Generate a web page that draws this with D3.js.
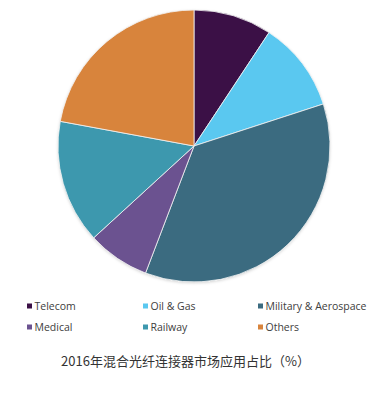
<!DOCTYPE html>
<html>
<head>
<meta charset="utf-8">
<script src="https://cdn.jsdelivr.net/npm/d3@7"></script>
<style>
  body { margin: 0; background: #fff; }
</style>
</head>
<body>
<div id="container"></div>
<script>
// Data (percent share, clockwise from 12 o'clock)
const categories = ["Telecom", "Oil & Gas", "Military & Aerospace", "Medical", "Railway", "Others"];
const shares = [9.3, 10.7, 35.8, 7.4, 14.7, 22.1];
const colors = ["#3b1046", "#5ac8f0", "#3b6b80", "#6b5290", "#3d98ae", "#d8843c"];
const title = "2016年混合光纤连接器市场应用占比（%）";

const width = 387;
const height = 398;
const cx = 194;
const cy = 146;
const radius = 136;

const data = categories.map((name, i) => ({ name, value: shares[i] }));

const color = d3.scaleOrdinal().domain(categories).range(colors);

const svg = d3.create("svg").attr("width", width).attr("height", height);

// soft shadow under the pie
const defs = svg.append("defs");
const filter = defs.append("filter").attr("id", "shadow").attr("x", "-10%").attr("y", "-10%").attr("width", "120%").attr("height", "120%");
filter.append("feDropShadow").attr("dx", 0).attr("dy", 1).attr("stdDeviation", 1.5).attr("flood-color", "#000").attr("flood-opacity", 0.18);

const pie = d3.pie().sort(null).value((d) => d.value);
const arc = d3.arc().innerRadius(0).outerRadius(radius);

const g = svg.append("g").attr("transform", `translate(${cx},${cy})`);

g.append("circle").attr("r", radius).attr("fill", "#fff").attr("filter", "url(#shadow)");

g.selectAll("path")
  .data(pie(data))
  .join("path")
  .attr("d", arc)
  .attr("fill", (d) => color(d.data.name))
  .attr("stroke", "#f2f2f2")
  .attr("stroke-width", 0.8);

// Legend, 3 columns x 2 rows
const colX = [27, 143, 258];
const rowY = [306, 327];
const legend = svg.append("g").attr("font-family", "'Open Sans', sans-serif").attr("font-size", 10.5).attr("fill", "#404040");

const item = legend.selectAll("g")
  .data(categories)
  .join("g")
  .attr("transform", (d, i) => `translate(${colX[i % 3]},${rowY[Math.floor(i / 3)]})`);

item.append("rect").attr("x", 0).attr("y", -2.5).attr("width", 5).attr("height", 5).attr("fill", (d) => color(d));
item.append("text").attr("x", 7.5).attr("dy", "0.35em").text((d) => d);

svg.append("text")
  .attr("x", 185.5)
  .attr("y", 361)
  .attr("dy", "0.35em")
  .attr("text-anchor", "middle")
  .attr("font-family", "'Noto Sans CJK SC', sans-serif")
  .attr("font-size", 13)
  .attr("fill", "#333")
  .text(title);

document.getElementById("container").append(svg.node());
</script>
</body>
</html>
